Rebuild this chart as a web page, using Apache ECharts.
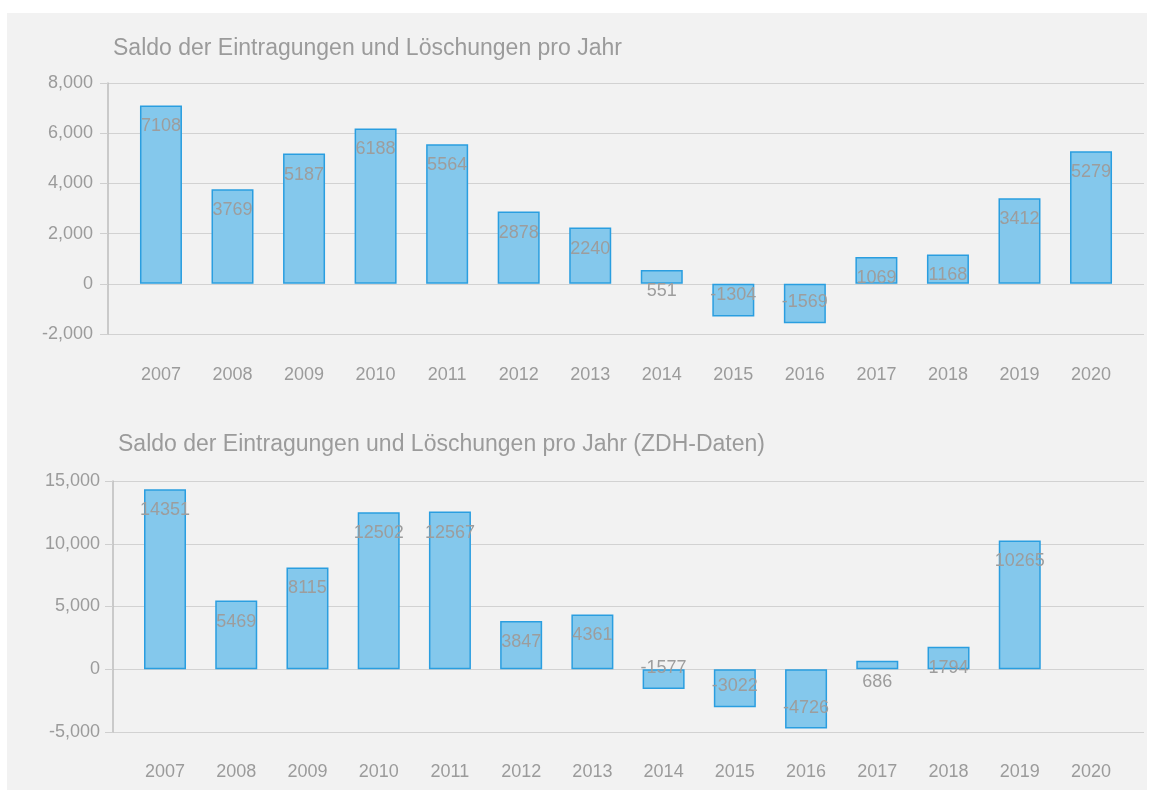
<!DOCTYPE html>
<html>
<head>
<meta charset="utf-8">
<script src="https://cdn.jsdelivr.net/npm/echarts@6/dist/echarts.min.js"></script>
<style>
  html, body { margin: 0; padding: 0; background: #fff; }
  #panel { position: absolute; left: 7px; top: 13px; width: 1140px; height: 777px; background: #f2f2f2; }
  #chart { position: absolute; left: 0; top: 0; width: 1151px; height: 793px; }
</style>
</head>
<body>
<div id="panel"></div>
<div id="chart"></div>
<script>
var years = ['2007', '2008', '2009', '2010', '2011', '2012', '2013', '2014', '2015', '2016', '2017', '2018', '2019', '2020'];
var saldo = [7108, 3769, 5187, 6188, 5564, 2878, 2240, 551, -1304, -1569, 1069, 1168, 3412, 5279];
var saldoZdh = [14351, 5469, 8115, 12502, 12567, 3847, 4361, -1577, -3022, -4726, 686, 1794, 10265, null];

var titleTop = 'Saldo der Eintragungen und Löschungen pro Jahr';
var titleBottom = 'Saldo der Eintragungen und Löschungen pro Jahr (ZDH-Daten)';

var font = '"Liberation Sans", Arial, sans-serif';
var grey = '#9b9b9b';

function barData(arr) {
  return arr.map(function (v) {
    if (v === null) return '-';
    return { value: v, label: { position: v < 0 ? 'insideBottom' : 'insideTop' } };
  });
}

function fmt(v) {
  return v.toLocaleString('en-US');
}

// background grids carry the value axis + split lines, bar grids carry the categories
function bgY(idx, min, max, step, margin) {
  return {
    gridIndex: idx, type: 'value', min: min, max: max, interval: step,
    axisLine: { show: true, lineStyle: { color: '#bdbdbd', width: 1.5 } },
    axisTick: { show: true, length: 8, lineStyle: { color: '#cfcfcf' } },
    axisLabel: { color: grey, fontSize: 18, fontFamily: font, margin: margin, formatter: fmt },
    splitLine: { lineStyle: { color: '#d2d2d2', width: 1.2 } }
  };
}
function hiddenY(idx, min, max, step) {
  return { gridIndex: idx, type: 'value', min: min, max: max, interval: step, show: false };
}
function bgX(idx) {
  return { gridIndex: idx, type: 'category', data: years, show: false };
}
function barX(idx, margin) {
  return {
    gridIndex: idx, type: 'category', data: years,
    axisLine: { show: false }, axisTick: { show: false },
    axisLabel: { color: grey, fontSize: 18, fontFamily: font, margin: margin, interval: 0 }
  };
}
function barSeries(idx, arr) {
  return {
    type: 'bar', xAxisIndex: idx, yAxisIndex: idx, barWidth: 42,
    data: barData(arr),
    itemStyle: { color: '#84c8ec', borderColor: '#2a9ee0', borderWidth: 1.5 },
    label: { show: true, distance: 12, color: '#9d9d9d', fontSize: 18, fontFamily: font },
    emphasis: { disabled: true }
  };
}

var myChart = echarts.init(document.getElementById('chart'));
var option = {
  animation: false,
  title: [
    { text: titleTop, left: 108, top: 32, textStyle: { color: grey, fontSize: 23, fontWeight: 'normal', fontFamily: font } },
    { text: titleBottom, left: 113, top: 428, textStyle: { color: grey, fontSize: 23, fontWeight: 'normal', fontFamily: font } }
  ],
  grid: [
    { left: 108, right: 7, top: 83, height: 251 },
    { left: 125.2, right: 24.2, top: 83, height: 251 },
    { left: 113, right: 7, top: 481, height: 251 },
    { left: 129.4, right: 24.4, top: 481, height: 251 }
  ],
  xAxis: [bgX(0), barX(1, 32), bgX(2), barX(3, 31)],
  yAxis: [
    bgY(0, -2000, 8000, 2000, 15), hiddenY(1, -2000, 8000, 2000),
    bgY(2, -5000, 15000, 5000, 13), hiddenY(3, -5000, 15000, 5000)
  ],
  series: [barSeries(1, saldo), barSeries(3, saldoZdh)]
};
option && myChart.setOption(option);
</script>
</body>
</html>
